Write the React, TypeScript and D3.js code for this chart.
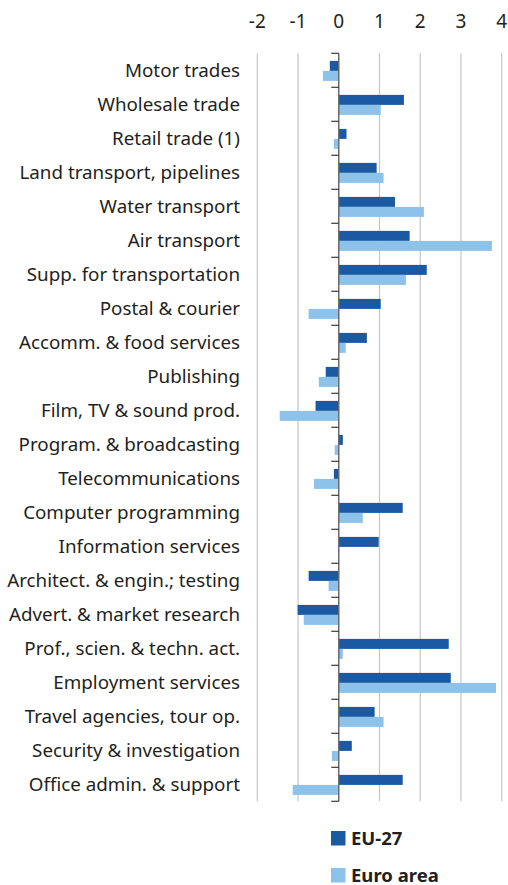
import React, { useEffect, useRef } from "react";
import * as d3 from "d3";

const categories = [
  "Motor trades",
  "Wholesale trade",
  "Retail trade (1)",
  "Land transport, pipelines",
  "Water transport",
  "Air transport",
  "Supp. for transportation",
  "Postal & courier",
  "Accomm. & food services",
  "Publishing",
  "Film, TV & sound prod.",
  "Program. & broadcasting",
  "Telecommunications",
  "Computer programming",
  "Information services",
  "Architect. & engin.; testing",
  "Advert. & market research",
  "Prof., scien. & techn. act.",
  "Employment services",
  "Travel agencies, tour op.",
  "Security & investigation",
  "Office admin. & support",
];

const eu27 = [
  -0.22, 1.6, 0.19, 0.93, 1.38, 1.74, 2.16, 1.03, 0.69, -0.32, -0.57, 0.1,
  -0.12, 1.57, 0.98, -0.74, -1.01, 2.7, 2.75, 0.88, 0.32, 1.57,
];
const euroArea = [
  -0.39, 1.03, -0.12, 1.1, 2.09, 3.76, 1.65, -0.74, 0.17, -0.49, -1.45, -0.1,
  -0.61, 0.59, 0.0, -0.25, -0.86, 0.1, 3.86, 1.1, -0.17, -1.13,
];
const seriesNames = ["EU-27", "Euro area"];
const xTicks = [-2, -1, 0, 1, 2, 3, 4];

const colors = ["#1b5aa3", "#8dc3eb"];
const font = "'Noto Sans', sans-serif";

export default function App() {
  const ref = useRef<SVGSVGElement>(null);

  useEffect(() => {
    const svg = d3.select(ref.current);
    svg.selectAll("*").remove();

    const top = 53.3;
    const step = 34;
    const x = d3.scaleLinear().domain([-2, 4]).range([257.3, 501.7]);
    const y = d3
      .scaleBand<string>()
      .domain(categories)
      .range([top, top + step * categories.length]);
    const ySeries = d3.scaleBand<string>().domain(seriesNames).range([7.6, 27.6]);
    const yBottom = top + step * categories.length;

    // gridlines
    svg
      .append("g")
      .selectAll("line")
      .data(xTicks.filter((d) => d !== 0))
      .enter()
      .append("line")
      .attr("x1", (d) => x(d))
      .attr("x2", (d) => x(d))
      .attr("y1", top)
      .attr("y2", yBottom)
      .attr("stroke", "#c6c6c6")
      .attr("stroke-width", 1.2);

    // tick labels on top
    svg
      .append("g")
      .selectAll("text")
      .data(xTicks)
      .enter()
      .append("text")
      .attr("x", (d) => x(d))
      .attr("y", 28)
      .attr("text-anchor", "middle")
      .attr("font-family", font)
      .attr("font-size", 19)
      .attr("fill", "#231f20")
      .text((d) => String(d));

    // bars
    const data = [eu27, euroArea];
    data.forEach((vals, si) => {
      svg
        .append("g")
        .selectAll("rect")
        .data(vals)
        .enter()
        .append("rect")
        .attr("x", (d) => x(Math.min(0, d)))
        .attr("width", (d) => Math.abs(x(d) - x(0)))
        .attr("y", (_d, i) => (y(categories[i]) as number) + (ySeries(seriesNames[si]) as number))
        .attr("height", ySeries.bandwidth())
        .attr("fill", colors[si]);
    });

    // zero axis + category ticks
    svg
      .append("line")
      .attr("x1", x(0))
      .attr("x2", x(0))
      .attr("y1", top)
      .attr("y2", yBottom)
      .attr("stroke", "#6a6a6a")
      .attr("stroke-width", 1.5);

    const boundaries = d3.range(categories.length + 1).map((i) => top + i * step);
    svg
      .append("g")
      .selectAll("line")
      .data(boundaries)
      .enter()
      .append("line")
      .attr("x1", x(0) - 7.5)
      .attr("x2", x(0))
      .attr("y1", (d) => d)
      .attr("y2", (d) => d)
      .attr("stroke", "#3a3a3a")
      .attr("stroke-width", 1.2);

    // category labels
    svg
      .append("g")
      .selectAll("text")
      .data(categories)
      .enter()
      .append("text")
      .attr("x", 240)
      .attr("y", (d) => (y(d) as number) + step / 2)
      .attr("dy", "0.35em")
      .attr("text-anchor", "end")
      .attr("font-family", font)
      .attr("font-size", 18.8)
      .attr("fill", "#231f20")
      .text((d) => d);

    // legend
    const legend = svg
      .append("g")
      .selectAll("g")
      .data(seriesNames)
      .enter()
      .append("g")
      .attr("transform", (_d, i) => `translate(331, ${831 + i * 37})`);
    legend
      .append("rect")
      .attr("width", 14.5)
      .attr("height", 14.5)
      .attr("fill", (_d, i) => colors[i]);
    legend
      .append("text")
      .attr("x", 20)
      .attr("y", 14)
      .attr("font-family", font)
      .attr("font-weight", "bold")
      .attr("font-size", 18.5)
      .attr("fill", "#231f20")
      .text((d) => d);
  }, []);

  return (
    <svg
      ref={ref}
      width={508}
      height={885}
      style={{ position: "absolute", left: 0, top: 0 }}
    />
  );
}
